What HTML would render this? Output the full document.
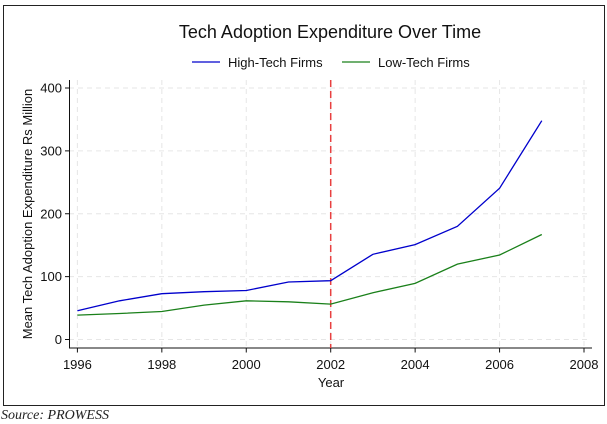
<!DOCTYPE html>
<html><head><meta charset="utf-8"><style>
html,body{margin:0;padding:0;background:#fff;width:607px;height:424px;overflow:hidden}
svg{display:block;font-family:"Liberation Sans",sans-serif}
</style></head><body>
<svg id="chart" width="607" height="424">
<rect x="3.5" y="5.5" width="601" height="400" fill="#fff" stroke="#222" stroke-width="1"/>
<text x="330" y="38" font-size="18" text-anchor="middle" fill="#111">Tech Adoption Expenditure Over Time</text>
<g>
<g><line x1="192" y1="62" x2="220" y2="62" stroke="#0000cc" stroke-width="1.3"/><text x="228" y="67" font-size="13" fill="#111">High-Tech Firms</text></g>
<g><line x1="342" y1="62" x2="370" y2="62" stroke="#1a801a" stroke-width="1.3"/><text x="378" y="67" font-size="13" fill="#111">Low-Tech Firms</text></g>
</g>
<g id="grid"></g>
<g id="axes"></g>
<g id="series"></g>
<text x="0" y="0" font-size="13" fill="#111" text-anchor="middle" transform="translate(32,214) rotate(-90)">Mean Tech Adoption Expenditure Rs Million</text>
<text x="331" y="387" font-size="13" fill="#111" text-anchor="middle">Year</text>
<text x="1" y="419" font-size="14" font-style="italic" fill="#222" font-family="Liberation Serif, serif">Source: PROWESS</text>
</svg>
<script>
const years=[1996,1997,1998,1999,2000,2001,2002,2003,2004,2005,2006,2007];
const highTech=[45.7,61.6,72.8,76,78,91.4,93.5,135.5,151,180,240.6,348];
const lowTech=[38.8,41.4,44.6,54.7,61.6,60,56.3,74.4,89.2,120,134.4,167];
const xTicks=[1996,1998,2000,2002,2004,2006,2008];
const yTicks=[0,100,200,300,400];
const cutoffYear=2002;
const NS="http://www.w3.org/2000/svg";
const x=v=>77.4+(v-1996)*((584-77.4)/12);
const y=v=>339.5-v*(251.5/400);
function mk(tag,attrs,parent){const e=document.createElementNS(NS,tag);for(const k in attrs)e.setAttribute(k,attrs[k]);parent.appendChild(e);return e;}
const grid=document.getElementById('grid'),axes=document.getElementById('axes'),series=document.getElementById('series');
yTicks.forEach(t=>{
 const g=mk('line',{x1:69,x2:591,y1:y(t),y2:y(t),stroke:'#e6e6e6','stroke-dasharray':'5,4'},grid);
 
 
 mk('line',{x1:65,x2:69,y1:y(t),y2:y(t),stroke:'#111'},axes);
 const l=mk('text',{x:62,y:y(t)+4.5,'font-size':13,'text-anchor':'end',fill:'#111'},axes);
 l.textContent=t;
 
 
});
xTicks.forEach(t=>{
 const g=mk('line',{x1:x(t),x2:x(t),y1:80,y2:348,stroke:'#e6e6e6','stroke-dasharray':'5,4'},grid);
 
 
 mk('line',{x1:x(t),x2:x(t),y1:348,y2:352.5,stroke:'#111'},axes);
 const l=mk('text',{x:x(t),y:369,'font-size':13,'text-anchor':'middle',fill:'#111'},axes);
 l.textContent=t;
 
 
});
const ya=mk('line',{x1:69.5,x2:69.5,y1:80,y2:348.5,stroke:'#111'},axes);


const xa=mk('line',{x1:69,x2:592,y1:348,y2:348,stroke:'#111'},axes);


const cut=mk('line',{x1:x(cutoffYear),x2:x(cutoffYear),y1:80,y2:348,stroke:'#e84040','stroke-width':1.5,'stroke-dasharray':'7,4'},series);


const pts=arr=>arr.map((v,i)=>x(years[i]).toFixed(1)+','+y(v).toFixed(1)).join(' ');
const hl=mk('polyline',{points:pts(highTech),fill:'none',stroke:'#0000cc','stroke-width':1.3},series);


const ll=mk('polyline',{points:pts(lowTech),fill:'none',stroke:'#1a801a','stroke-width':1.3},series);


</script>
</body></html>
